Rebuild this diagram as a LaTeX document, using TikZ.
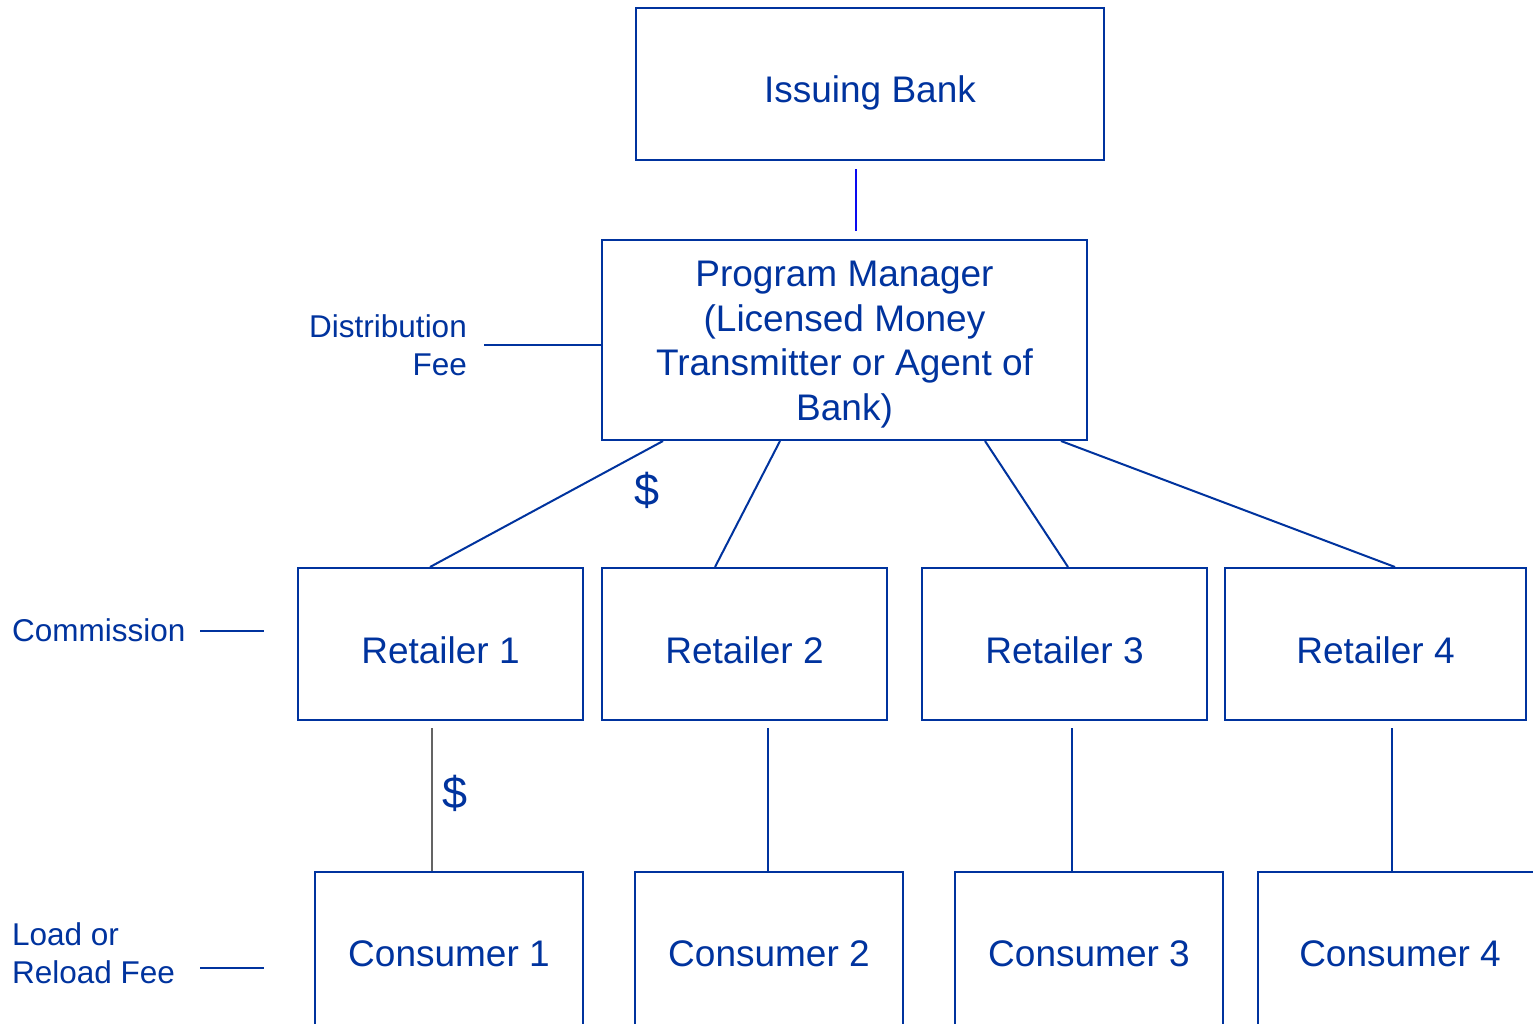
\documentclass[tikz,border=0pt]{standalone}
\usepackage{fontspec}
\setmainfont{Liberation Sans}
\definecolor{navy}{RGB}{0,51,158}
\definecolor{brightblue}{RGB}{10,10,240}
\definecolor{linkgrey}{RGB}{100,100,100}
% lower a text inside its box without changing the box's size
\newcommand{\dropped}[2]{\raisebox{-#1}[\height][\depth]{#2}}
\begin{document}
\begin{tikzpicture}[x=1pt,y=-1pt,
  box/.style={draw=navy,line width=2pt,text=navy,inner sep=0pt,align=center,
    font=\fontsize{37}{44.5}\selectfont},
  note/.style={text=navy,inner sep=0pt,font=\fontsize{31.5}{38}\selectfont},
  link/.style={draw=navy,line width=2pt},
  money/.style={text=navy,inner sep=0pt,font=\fontsize{45}{50}\selectfont}]
\clip (0,0) rectangle (1533,1023);
\fill[white] (0,0) rectangle (1533,1023);

% top of the hierarchy
\node[box,minimum width=468pt,minimum height=152pt] (bank) at (870,84) {\dropped{9pt}{Issuing Bank}};
\node[box,minimum width=485pt,minimum height=200pt] (pm) at (844.5,340)
  {\dropped{4.5pt}{\begin{tabular}{@{}c@{}}Program Manager\\(Licensed Money\\Transmitter or Agent of\\Bank)\end{tabular}}};
\draw[draw=brightblue,line width=2pt] ([xshift=-14pt,yshift=-8pt]bank.south) -- ([xshift=11.5pt,yshift=8pt]pm.north);

% retailers
\node[box,minimum width=285pt,minimum height=152pt] (r1) at (440.5,644) {\dropped{6pt}{Retailer 1}};
\node[box,minimum width=285pt,minimum height=152pt] (r2) at (744.5,644) {\dropped{6pt}{Retailer 2}};
\node[box,minimum width=285pt,minimum height=152pt] (r3) at (1064.5,644) {\dropped{6pt}{Retailer 3}};
\node[box,minimum width=301pt,minimum height=152pt] (r4) at (1375.5,644) {\dropped{6pt}{Retailer 4}};

% consumers (boxes run past the lower edge)
\node[box,minimum width=268pt,minimum height=164pt] (c1) at (449,954) {Consumer 1};
\node[box,minimum width=268pt,minimum height=164pt] (c2) at (769,954) {Consumer 2};
\node[box,minimum width=268pt,minimum height=164pt] (c3) at (1089,954) {Consumer 3};
\node[box,minimum width=284pt,minimum height=164pt] (c4) at (1400,954) {Consumer 4};

% program manager to retailers
\draw[link] ([xshift=62pt]pm.south west) -- ([xshift=133pt]r1.north west);
\draw[link] ([xshift=179pt]pm.south west) -- ([xshift=114pt]r2.north west);
\draw[link] ([xshift=384pt]pm.south west) -- ([xshift=147pt]r3.north west);
\draw[link] ([xshift=460pt]pm.south west) -- ([xshift=171pt]r4.north west);
\node[money] (d1) at (647,490) {\$};

% retailers to consumers
\draw[draw=linkgrey,line width=2pt] ([xshift=-8.5pt,yshift=-7pt]r1.south) -- ([xshift=-17pt]c1.north);
\draw[link] ([xshift=23.5pt,yshift=-7pt]r2.south) -- ([xshift=-1pt]c2.north);
\draw[link] ([xshift=7.5pt,yshift=-7pt]r3.south) -- ([xshift=-17pt]c3.north);
\draw[link] ([xshift=16.5pt,yshift=-7pt]r4.south) -- ([xshift=-8pt]c4.north);
\node[money] (d2) at (455,793) {\$};

% fee labels
\node[note,anchor=east,align=right] (dist) at (467,345) {Distribution\\Fee};
\draw[link] ([xshift=17pt]dist.east) -- (dist.east -| pm.west);
\node[note,anchor=west] (comm) at (12,630) {Commission};
\coordinate (commend) at (264,631);
\draw[link] (200,631) -- (commend);
\node[note,anchor=west,align=left] (load) at (12,953) {Load or\\Reload Fee};
\coordinate (loadend) at (264,968);
\draw[link] (200,968) -- (loadend);
\end{tikzpicture}
\end{document}
